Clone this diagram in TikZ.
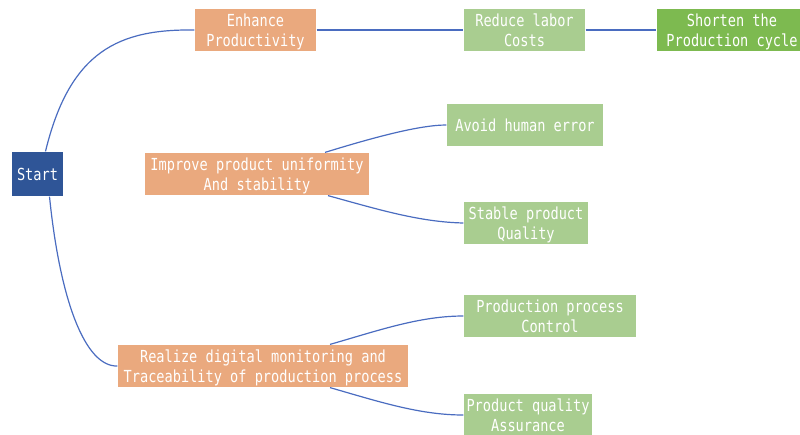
\documentclass[tikz,border=0pt]{standalone}
\usepackage{fontspec}
\newfontfamily\boxfont[FakeStretch=0.82]{DejaVu Sans Mono}
\usetikzlibrary{positioning,calc}
\definecolor{startblue}{HTML}{2F5597}
\definecolor{orbox}{HTML}{EAA97E}
\definecolor{grbox}{HTML}{A9CD90}
\definecolor{grdark}{HTML}{7DBA50}
\definecolor{linkblue}{HTML}{4A6CC0}
\begin{document}
\begin{tikzpicture}[x=1pt,y=-1pt,line width=1.2pt,
  box/.style={inner sep=0pt,minimum height=42pt,align=center,text=white,
    text depth=-5pt,font=\boxfont\fontsize{16.6}{20}\selectfont},
  orange/.style={box,fill=orbox},
  green/.style={box,fill=grbox},
  link/.style={draw=linkblue}]
\useasboundingbox (0,0) rectangle (800,434);
%\draw[help lines] (0,0) grid (800,434);
\node[box,fill=startblue,minimum width=51pt,minimum height=44pt] (start) at (37.5,174) {Start};
\node[orange,minimum width=121pt] (enh) at (255.5,30) {Enhance\\Productivity};
\node[green,minimum width=121pt] (labor) at (524.5,30) {Reduce labor\\Costs};
\node[box,fill=grdark,minimum width=150pt] (cycle) at (732,30) {Shorten the\\Production cycle};
\node[orange,minimum width=224pt] (unif) at (257,174) {Improve product uniformity\\And stability};
\node[green,minimum width=156pt] (human) at (525,125) {Avoid human error};
\node[green,minimum width=124pt] (stable) at (526,223) {Stable product\\Quality};
\node[orange,minimum width=290pt] (digit) at (263,366) {Realize digital monitoring and\\Traceability of production process};
\node[green,minimum width=172pt] (ctrl) at (550,316) {Production process\\Control};
\node[green,minimum width=128pt] (assur) at (528,415) {Product quality\\Assurance};
% links
\draw[link] ([xshift=8pt]start.north) .. controls (70,50) and (120,29) .. (enh.west);
\draw[link] ([xshift=12pt]start.south) .. controls (60,300) and (85,367) .. (digit.west);
\draw[link] (enh) -- (labor) -- (cycle);
\draw[link] ([xshift=68pt]unif.north) .. controls (375,137) and (420,125) .. (human.west);
\draw[link] ([xshift=71pt]unif.south) .. controls (380,210) and (420,222) .. (stable.west);
\draw[link] ([xshift=67pt]digit.north) .. controls (380,330) and (420,316) .. (ctrl.west);
\draw[link] ([xshift=67pt]digit.south) .. controls (380,402) and (420,415) .. (assur.west);
\end{tikzpicture}
\end{document}
